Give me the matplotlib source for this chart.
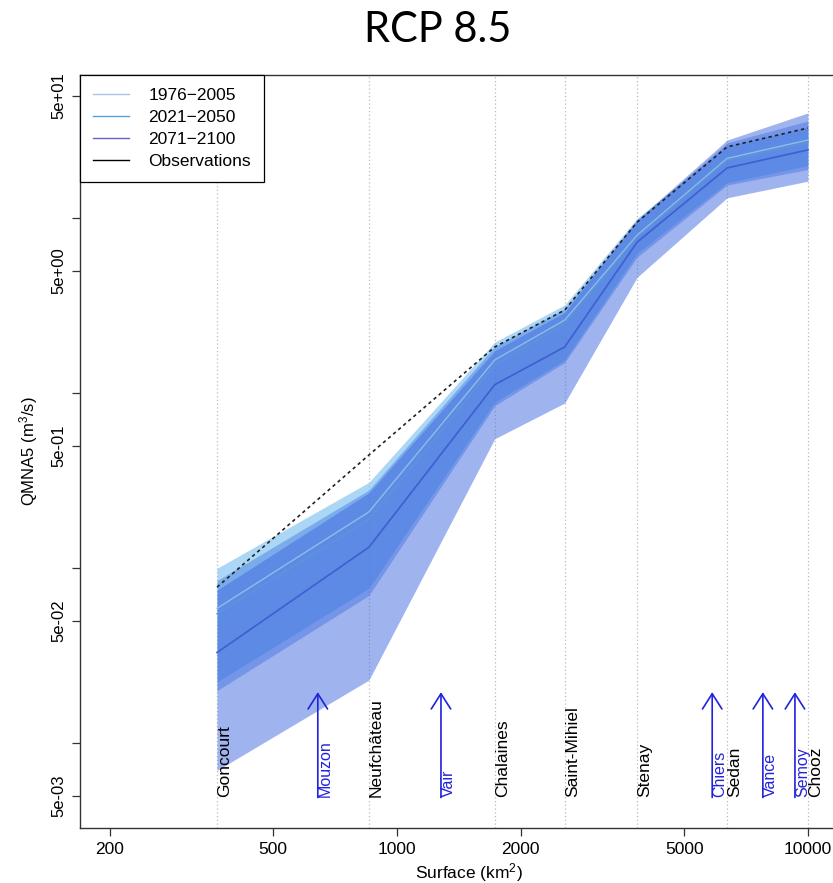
import numpy as np
import matplotlib.pyplot as plt
from matplotlib.lines import Line2D

plt.rcParams['font.family'] = ['Liberation Sans', 'DejaVu Sans']
plt.rcParams['mathtext.default'] = 'regular'

# gauging stations along the Meuse (surface in km2)
stations = ['Goncourt', 'Neufchâteau', 'Chalaines', 'Saint-Mihiel', 'Stenay', 'Sedan', 'Chooz']
surface = [365, 855, 1730, 2560, 3840, 6360, 10000]

# tributaries (arrows)
tributaries = ['Mouzon', 'Vair', 'Chiers', 'Vance', 'Semoy']
trib_surface = [642, 1280, 5850, 7770, 9300]

# QMNA5 (m3/s)
obs = [0.078, 0.444, 1.84, 2.99, 9.5, 25.6, 32.8]

q1976_low = [0.0224, 0.077, 0.89, 1.55, 6.3, 16.0, 20.0]
q1976_med = [0.059, 0.21, 1.55, 2.62, 8.0, 22.0, 28.0]
q1976_high = [0.100, 0.31, 1.96, 3.2, 10.0, 26.0, 33.0]

q2021_low = [0.020, 0.070, 0.85, 1.50, 6.0, 15.5, 19.0]
q2021_med = [0.055, 0.19, 1.45, 2.50, 7.8, 21.5, 27.0]
q2021_high = [0.085, 0.28, 1.85, 3.05, 9.7, 27.0, 36.0]

q2071_low = [0.0070, 0.023, 0.55, 0.88, 4.6, 13.1, 16.3]
q2071_med = [0.033, 0.132, 1.12, 1.84, 7.3, 19.4, 24.6]
q2071_high = [0.075, 0.27, 1.75, 2.9, 9.8, 28.0, 40.0]

periods = ['1976\u22122005', '2021\u22122050', '2071\u22122100', 'Observations']

fig = plt.figure(figsize=(8.33, 8.83), dpi=100)
ax = fig.add_axes([80/833, 55/883, 778/833, 753/883])
ax.set_xscale('log')
ax.set_yscale('log')
ax.set_xlim(169.4, 13240)
ax.set_ylim(0.00328, 65.9)

# station lines
for s in surface:
    ax.axvline(s, color='#bbbbbb', lw=0.9, ls=(0, (1, 2)), zorder=0)

# bands (oldest period underneath)
ax.fill_between(surface, q1976_low, q1976_high, color='#80c0f0', alpha=0.65, lw=0, zorder=1)
ax.fill_between(surface, q2021_low, q2021_high, color='#3f7ae0', alpha=0.45, lw=0, zorder=1)
ax.fill_between(surface, q2071_low, q2071_high, color='#4169e1', alpha=0.5, lw=0, zorder=1)

ax.plot(surface, q1976_med, color='#8fbde6', lw=1, zorder=2)
ax.plot(surface, q2021_med, color='#5b96d8', lw=1, zorder=2)
ax.plot(surface, q2071_med, color='#3f5fd0', lw=1.2, zorder=2)
ax.plot(surface, obs, color='#222222', lw=1.2, ls=(0, (2, 2)), zorder=3)

# labels
for s, name in zip(surface, stations):
    ax.text(s, 0.0049, name, rotation=90, ha='left', va='bottom', fontsize=12.5, color='black')
for s, name in zip(trib_surface, tributaries):
    ax.annotate('', xy=(s, 0.0196), xytext=(s, 0.0049),
                arrowprops=dict(arrowstyle='->,head_length=0.55,head_width=0.35',
                                color='#2222dd', lw=1.2, mutation_scale=20,
                                shrinkA=0, shrinkB=0))
    ax.text(s, 0.0049, name, rotation=90, ha='left', va='bottom', fontsize=11.5, color='#2222dd')

# axes
xt = [200, 500, 1000, 2000, 5000, 10000]
ax.set_xticks(xt)
ax.set_xticklabels([str(v) for v in xt], fontsize=12.5)
ax.xaxis.set_minor_locator(plt.NullLocator())
yt = [0.005, 0.01, 0.05, 0.1, 0.5, 1, 5, 10, 50]
ylab = ['5e-03', '', '5e-02', '', '5e-01', '', '5e+00', '', '5e+01']
ax.set_yticks(yt)
ax.set_yticklabels(ylab, fontsize=12, rotation=90, va='center')
ax.yaxis.set_minor_locator(plt.NullLocator())
ax.tick_params(length=6, width=0.9, color='#333333', pad=4)
for sp in ax.spines.values():
    sp.set_color('#333333')
    sp.set_linewidth(1)

ax.set_xlabel('Surface (km$^2$)', fontsize=12.5, labelpad=3)
ax.set_ylabel('QMNA5 (m$^3$/s)', fontsize=12, labelpad=8)

handles = [Line2D([], [], color='#a9c6e3', lw=1),
           Line2D([], [], color='#5aa0d8', lw=1),
           Line2D([], [], color='#6464c8', lw=1),
           Line2D([], [], color='black', lw=1)]
leg = ax.legend(handles, periods, loc='upper left', bbox_to_anchor=(0, 1), borderaxespad=0,
                fancybox=False, edgecolor='black', framealpha=1, fontsize=12.5,
                handlelength=2.1, handletextpad=1.1, labelspacing=0.4, borderpad=0.75)
leg.get_frame().set_linewidth(0.9)

fig.text(0.525, 0.966, 'RCP 8.5', fontsize=30, ha='center', va='center', family='Lato')

fig.savefig('out.png', dpi=100)
